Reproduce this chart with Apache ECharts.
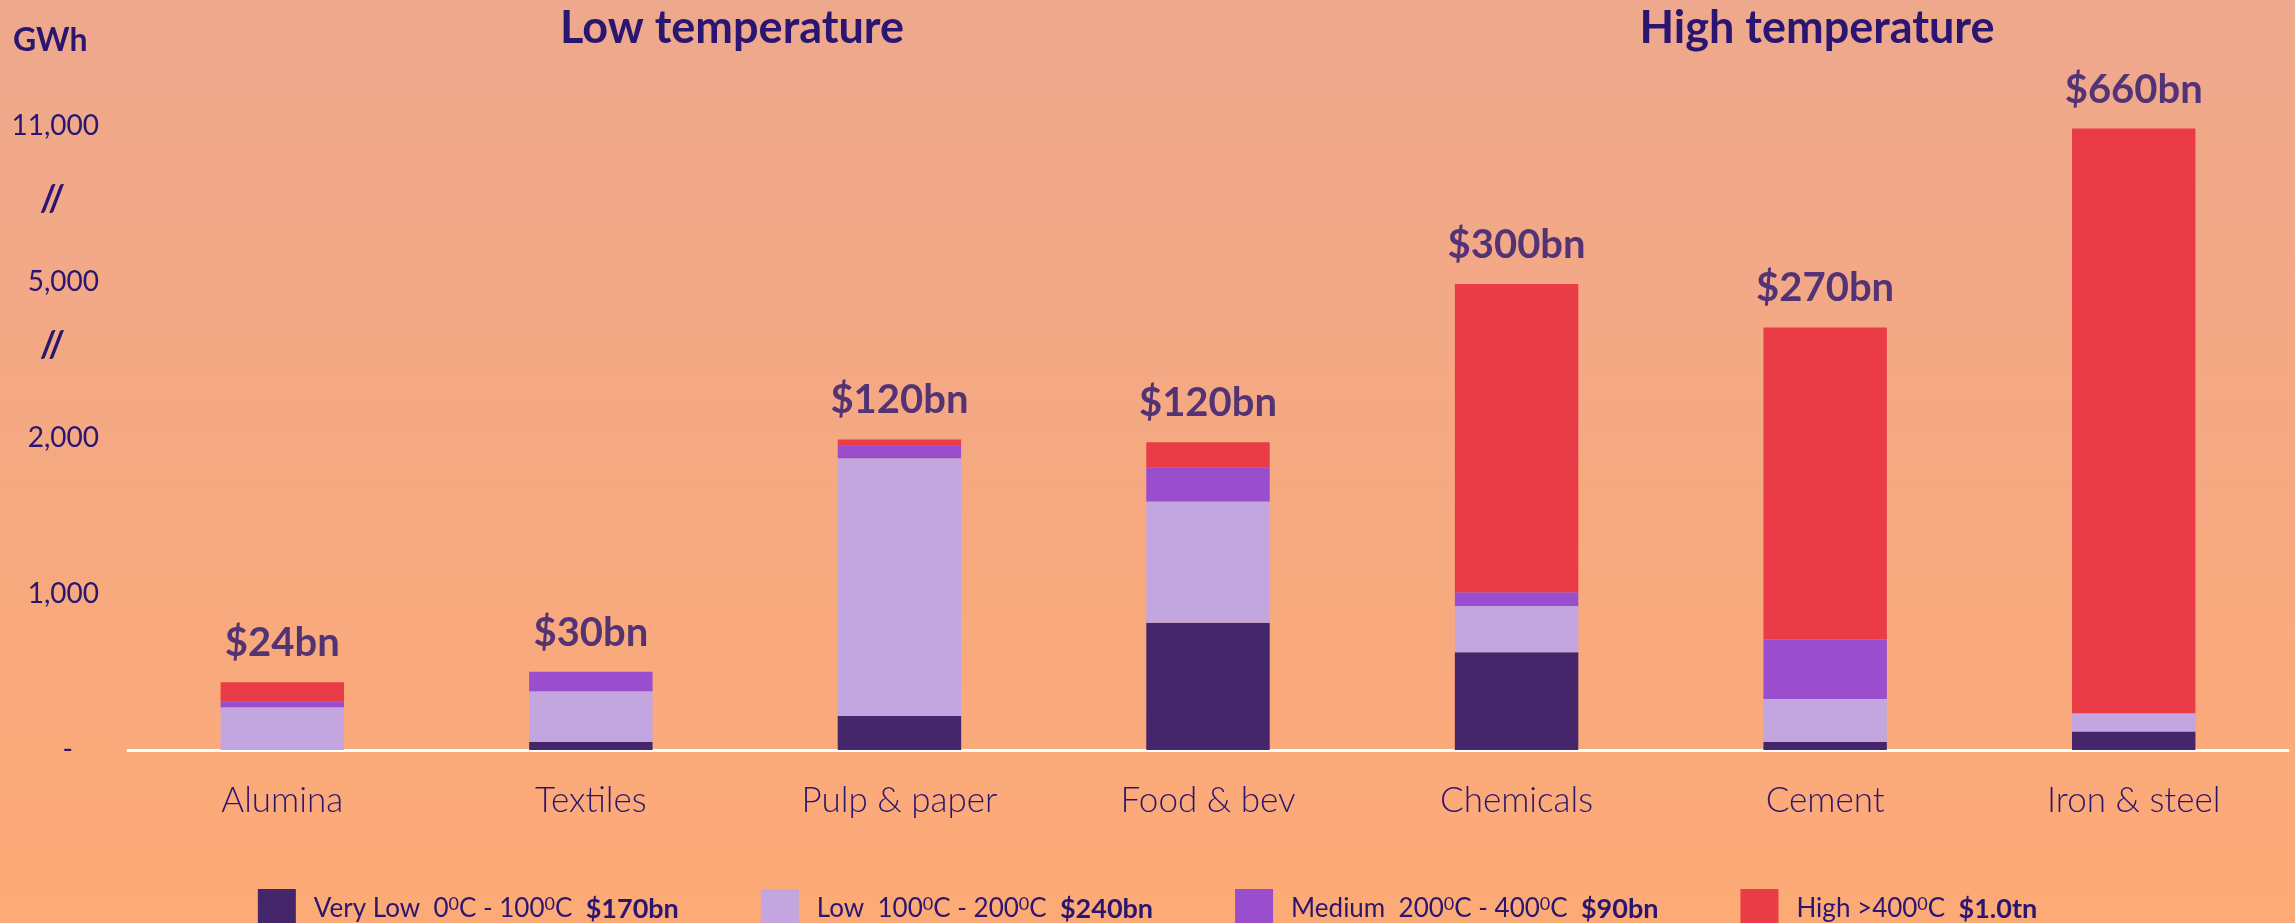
<!DOCTYPE html>
<html>
<head>
<meta charset="utf-8">
<script src="https://cdn.jsdelivr.net/npm/echarts@6/dist/echarts.min.js"></script>
<style>
html,body{margin:0;padding:0;background:#F5A985;}
#chart{width:2295px;height:923px;}
</style>
</head>
<body>
<div id="chart"></div>
<script>
// ---- data (GWh) ----
const categories = ['Alumina', 'Textiles', 'Pulp & paper', 'Food & bev', 'Chemicals', 'Cement', 'Iron & steel'];
const veryLow = [0, 51, 218, 815, 627, 51, 118];
const low = [274, 325, 1652, 778, 296, 276, 118];
const medium = [38, 126, 81, 220, 88, 382, 0];
const high = [122, 0, 40, 160, 3949, 3416, 10664];
const valueLabels = ['$24bn', '$30bn', '$120bn', '$120bn', '$300bn', '$270bn', '$660bn'];
const seriesNames = ['Very Low', 'Low', 'Medium', 'High'];
const legendParts = [
  ['Very Low  0', '0', 'C - 100', '0', 'C', '$170bn'],
  ['Low  100', '0', 'C - 200', '0', 'C', '$240bn'],
  ['Medium  200', '0', 'C - 400', '0', 'C', '$90bn'],
  ['High >400', '0', 'C', '', '', '$1.0tn']
];
// broken axis: tick values and their labels
const tickValues = [0, 1000, 2000, 5000, 11000];
const tickLabels = ['-', '1,000', '2,000', '5,000', '11,000'];
const breakLabel = '//';
const titles = ['Low temperature', 'High temperature'];
const unitLabel = 'GWh';

const colors = ['#45266B', '#C3A5DF', '#9A4DCC', '#E93C47'];
const textColor = '#2A1570';
const FONT = 'Lato, "Open Sans", sans-serif';

// piecewise scale: GWh -> axis units (one unit per tick segment)
function toAxis(v) {
  for (let i = 0; i < tickValues.length - 1; i++) {
    if (v <= tickValues[i + 1]) return i + (v - tickValues[i]) / (tickValues[i + 1] - tickValues[i]);
  }
  return tickValues.length - 1;
}

const raw = [veryLow, low, medium, high];
const cum = categories.map(() => 0);
const segs = raw.map(arr => arr.map((v, i) => {
  const a = toAxis(cum[i]);
  cum[i] += v;
  return toAxis(cum[i]) - a;
}));
const totals = cum.map(toAxis);

const chart = echarts.init(document.getElementById('chart'));

const series = seriesNames.map((name, k) => ({
  name, type: 'bar', stack: 'total', data: segs[k], barWidth: '40%',
  itemStyle: { color: colors[k] }, emphasis: { disabled: true }
}));
series.push({
  name: 'labels', type: 'scatter', data: totals, symbolSize: 0, silent: true,
  label: {
    show: true, position: 'top', distance: 19,
    formatter: p => valueLabels[p.dataIndex],
    fontFamily: FONT, fontWeight: 'bold', fontSize: 40, color: textColor
  }
});

chart.setOption({
  backgroundColor: {
    type: 'linear', x: 0, y: 0, x2: 0, y2: 1,
    colorStops: [{ offset: 0, color: '#EEA88D' }, { offset: 1, color: '#FDAA76' }]
  },
  animation: false,
  grid: { left: 128, right: 7, top: 126, bottom: 173 },
  xAxis: {
    type: 'category', data: categories,
    axisLine: { lineStyle: { color: '#FFFFFF', width: 3 } },
    axisTick: { show: false },
    axisLabel: { color: textColor, fontFamily: FONT, fontSize: 35, fontWeight: 300, margin: 33 }
  },
  yAxis: {
    type: 'value', min: 0, max: 4, interval: 0.5,
    axisLine: { show: false }, axisTick: { show: false }, splitLine: { show: false },
    axisLabel: {
      margin: 29,
      formatter: v => {
        if (Math.abs(v - Math.round(v)) < 1e-6) {
          const i = Math.round(v);
          return i === 0 ? '{dash|' + tickLabels[0] + '}' : '{t|' + tickLabels[i] + '}';
        }
        if (v > 2) return v > 3 ? '{b2|' + breakLabel + '}' : '{b1|' + breakLabel + '}';
        return '';
      },
      rich: {
        t: { color: textColor, fontFamily: FONT, fontSize: 28 },
        dash: { color: textColor, fontFamily: FONT, fontSize: 28, padding: [0, 26, 0, 0] },
        b1: { color: textColor, fontFamily: FONT, fontSize: 36, fontWeight: 'bold', padding: [0, 34, 30, 0] },
        b2: { color: textColor, fontFamily: FONT, fontSize: 36, fontWeight: 'bold', padding: [0, 34, 10, 0] }
      }
    }
  },
  legend: {
    data: seriesNames, top: 884, left: 'center', itemWidth: 38, itemHeight: 40, itemGap: 82,
    icon: 'rect', selectedMode: false,
    formatter: name => {
      const p = legendParts[seriesNames.indexOf(name)];
      let s = '{n0|' + p[0] + '}{s|' + p[1] + '}{n|' + p[2] + '}';
      if (p[3]) s += '{s|' + p[3] + '}{n|' + p[4] + '}';
      s += '{n|  }{b|' + p[5] + '}';
      return s;
    },
    textStyle: {
      color: textColor, fontFamily: FONT, fontSize: 26,
      rich: {
        n0: { color: textColor, fontFamily: FONT, fontSize: 26, padding: [0, 0, 0, 13] },
        n: { color: textColor, fontFamily: FONT, fontSize: 26 },
        s: { color: textColor, fontFamily: FONT, fontSize: 18, verticalAlign: 'top' },
        b: { color: textColor, fontFamily: FONT, fontSize: 27, fontWeight: 'bold' }
      }
    }
  },
  graphic: [
    { type: 'text', x: 732, y: 28, style: { text: titles[0], fill: textColor, font: 'bold 45px ' + FONT, textAlign: 'center', textVerticalAlign: 'middle' } },
    { type: 'text', x: 1817, y: 28, style: { text: titles[1], fill: textColor, font: 'bold 45px ' + FONT, textAlign: 'center', textVerticalAlign: 'middle' } },
    { type: 'text', x: 13, y: 41, style: { text: unitLabel, fill: textColor, font: 'bold 32px ' + FONT, textAlign: 'left', textVerticalAlign: 'middle' } }
  ],
  series
});
</script>
</body>
</html>
